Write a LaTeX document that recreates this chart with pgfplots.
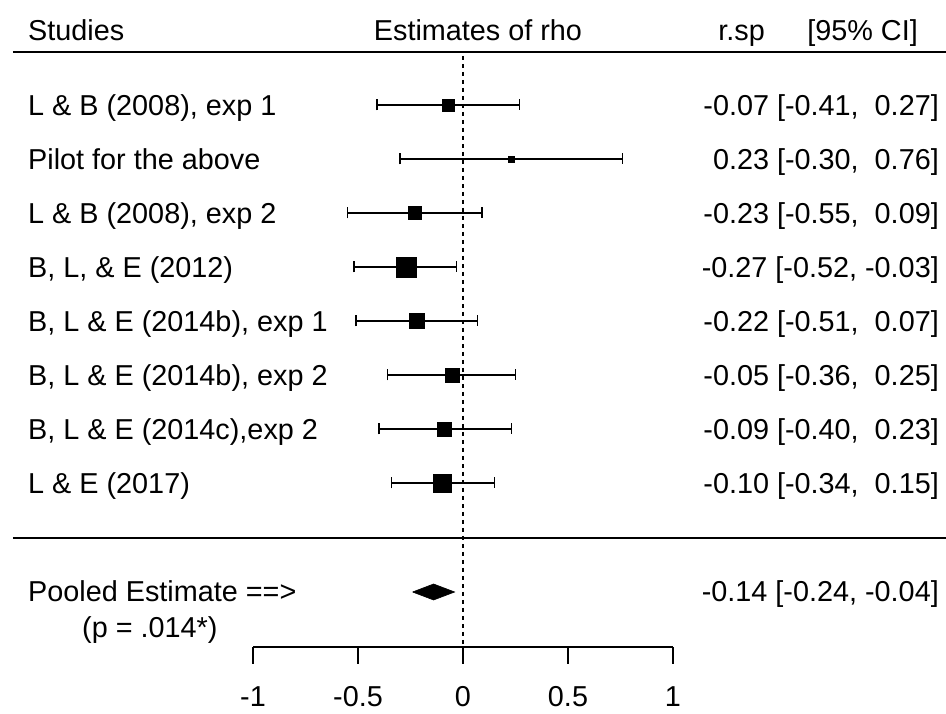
\documentclass[border=0pt]{standalone}
\usepackage{fontspec}
\setmainfont{Liberation Sans}
\usepackage{pgfplots}
\usepackage{pgfplotstable}
\pgfplotsset{compat=1.18}

% y = row position (pt from the bottom of the picture), est/lo/hi = r.sp and 95% CI, sz = square half-size
\pgfplotstableread{
y   est   lo    hi    sz
609 -0.07 -0.41 0.27  6
555  0.23 -0.30 0.76  3
501 -0.23 -0.55 0.09  6.5
447 -0.27 -0.52 -0.03 10
393 -0.22 -0.51 0.07  7.5
339 -0.05 -0.36 0.25  7
285 -0.09 -0.40 0.23  7
231 -0.10 -0.34 0.15  9
}\studies

\newcommand\lbl{\fontsize{28.8}{34}\selectfont}

\begin{document}
\begin{tikzpicture}[font=\lbl]
\begin{axis}[
    scale only axis,
    width=420pt, height=647pt,
    xmin=-1, xmax=1,
    ymin=67, ymax=714,
    clip=false,
    axis y line=none,
    axis x line=bottom,
    axis line style={-, line width=1.3pt},
    xtick={-1,-0.5,0,0.5,1},
    xticklabels={-1,-0.5,0,0.5,1},
    tick align=outside,
    major tick length=17pt,
    tick style={black, line width=1.3pt},
    xticklabel style={anchor=north, inner sep=0pt, text height=20.6pt, text depth=0pt, font=\lbl},
    xticklabel shift=22pt,
  ]
  \coordinate (bl) at (axis cs:-2.2048,0);
  \coordinate (tr) at (axis cs:2.3,714);

  % rules and reference line
  \draw[line width=2pt] (axis cs:-2.1429,662) -- (axis cs:2.3,662);
  \draw[line width=1.6pt] (axis cs:-2.1429,176) -- (axis cs:2.3,176);
  \draw[line width=1.1pt, dash pattern=on 4pt off 4pt] (axis cs:0,658) -- (axis cs:0,67);

  % studies: CI bars and squares
  \addplot[
      only marks, mark=square*,
      scatter,
      scatter/use mapped color={draw=black, fill=black},
      visualization depends on={\thisrow{sz} \as \msz},
      scatter/@pre marker code/.append style={/tikz/mark size=\msz},
      error bars/.cd,
        x dir=both, x explicit,
        error mark=|,
        error bar style={black, line width=1.5pt},
        error mark options={black, mark size=5.5pt, line width=1.5pt},
    ] table[
      x=est, y=y,
      x error plus expr=\thisrow{hi}-\thisrow{est},
      x error minus expr=\thisrow{est}-\thisrow{lo},
    ] {\studies};

  % pooled estimate diamond
  \addplot[fill=black, draw=black, line width=0.6pt] coordinates {
    (-0.24,122) (-0.14,130) (-0.04,122) (-0.14,114) (-0.24,122)};

  % header
  \node[anchor=base west, inner sep=0pt] at (axis cs:-2.0714,673) {Studies};
  \node[anchor=base, inner sep=0pt] at (axis cs:0.0714,673) {Estimates of rho};
  \node[anchor=base east, inner sep=0pt] at (axis cs:1.4381,673) {r.sp};
  \node[anchor=base east, inner sep=0pt] at (axis cs:2.1667,673) {[95\% CI]};

  % study labels
  \node[anchor=base west, inner sep=0pt] at (axis cs:-2.0714,598.5) {L \& B (2008), exp 1};
  \node[anchor=base west, inner sep=0pt] at (axis cs:-2.0714,544.5) {Pilot for the above};
  \node[anchor=base west, inner sep=0pt] at (axis cs:-2.0714,490.5) {L \& B (2008), exp 2};
  \node[anchor=base west, inner sep=0pt] at (axis cs:-2.0714,436.5) {B, L, \& E (2012)};
  \node[anchor=base west, inner sep=0pt] at (axis cs:-2.0714,382.5) {B, L \& E (2014b), exp 1};
  \node[anchor=base west, inner sep=0pt] at (axis cs:-2.0714,328.5) {B, L \& E (2014b), exp 2};
  \node[anchor=base west, inner sep=0pt] at (axis cs:-2.0714,274.5) {B, L \& E (2014c),exp 2};
  \node[anchor=base west, inner sep=0pt] at (axis cs:-2.0714,220.5) {L \& E (2017)};
  \node[anchor=base west, inner sep=0pt] at (axis cs:-2.0714,112) {Pooled Estimate ==>};
  \node[anchor=base west, inner sep=0pt] at (axis cs:-1.8143,76) {(p = .014*)};

  % estimates column
  \node[anchor=base east, inner sep=0pt] at (axis cs:2.2667,598.5) {-0.07 [-0.41,~ 0.27]};
  \node[anchor=base east, inner sep=0pt] at (axis cs:2.2667,544.5) {0.23 [-0.30,~ 0.76]};
  \node[anchor=base east, inner sep=0pt] at (axis cs:2.2667,490.5) {-0.23 [-0.55,~ 0.09]};
  \node[anchor=base east, inner sep=0pt] at (axis cs:2.2667,436.5) {-0.27 [-0.52, -0.03]};
  \node[anchor=base east, inner sep=0pt] at (axis cs:2.2667,382.5) {-0.22 [-0.51,~ 0.07]};
  \node[anchor=base east, inner sep=0pt] at (axis cs:2.2667,328.5) {-0.05 [-0.36,~ 0.25]};
  \node[anchor=base east, inner sep=0pt] at (axis cs:2.2667,274.5) {-0.09 [-0.40,~ 0.23]};
  \node[anchor=base east, inner sep=0pt] at (axis cs:2.2667,220.5) {-0.10 [-0.34,~ 0.15]};
  \node[anchor=base east, inner sep=0pt] at (axis cs:2.2667,112) {-0.14 [-0.24, -0.04]};
\end{axis}
\pgfresetboundingbox
\path (bl) rectangle (tr);
\end{tikzpicture}
\end{document}
